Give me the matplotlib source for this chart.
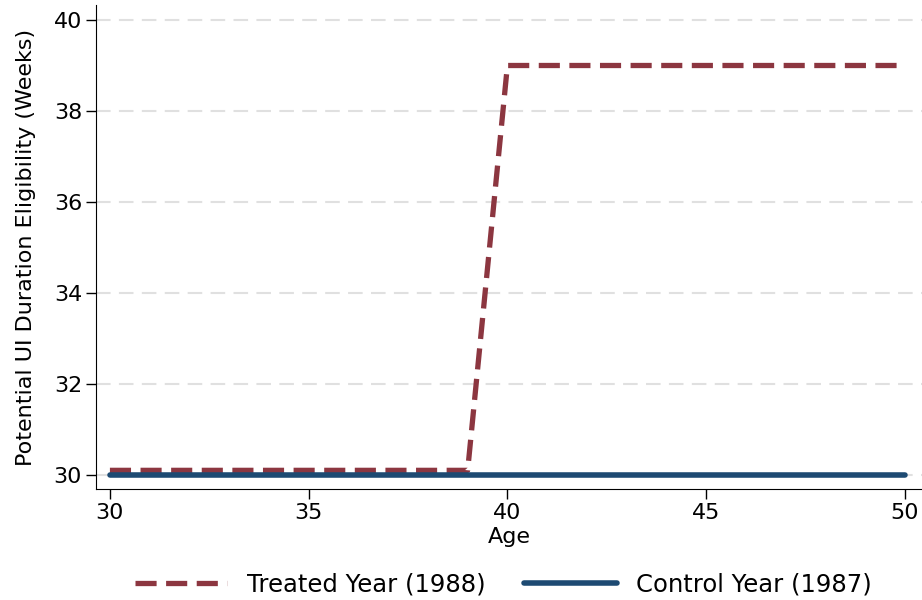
import matplotlib

matplotlib.use("Agg")
import matplotlib.pyplot as plt


AGE = [30, 31, 32, 33, 34, 35, 36, 37, 38, 39, 40, 41, 42, 43, 44, 45, 46, 47, 48, 49, 50]
TREATED_1988 = [30.1] * 10 + [39] * 11
CONTROL_1987 = [30] * 21
Y_TICKS = [30, 32, 34, 36, 38, 40]
X_TICKS = [30, 35, 40, 45, 50]

warna_treated = "#8c3640"
warna_control = "#1d4a72"

fig = plt.figure(figsize=(9.22, 6), dpi=100)
ax = fig.add_axes([96 / 922, 111 / 600, 826 / 922, 484 / 600])

ax.plot(
    AGE,
    TREATED_1988,
    color=warna_treated,
    linewidth=3.8,
    linestyle=(0, (4, 1.8)),
    label="Treated Year (1988)",
    zorder=3,
)
ax.plot(
    AGE,
    CONTROL_1987,
    color=warna_control,
    linewidth=4,
    solid_capstyle="round",
    label="Control Year (1987)",
    zorder=4,
)

ax.set_xlim(29.65, 50.43)
ax.set_ylim(29.69, 40.33)
ax.set_xticks(X_TICKS)
ax.set_yticks(Y_TICKS)
ax.tick_params(labelsize=16, length=7, width=1, direction="out", pad=3)
ax.set_xlabel("Age", fontsize=16, labelpad=3)
ax.set_ylabel("Potential UI Duration Eligibility (Weeks)", fontsize=16, labelpad=13)
ax.grid(axis="y", color="#e0e0e0", linestyle=(0, (7, 4)), linewidth=1.5)
ax.set_axisbelow(True)
for side in ["top", "right"]:
    ax.spines[side].set_visible(False)

fig.legend(
    loc="lower center",
    bbox_to_anchor=(0.546, -0.03),
    ncol=2,
    frameon=False,
    fontsize=17.5,
    handlelength=3.8,
    handletextpad=0.8,
    columnspacing=1.6,
)

fig.savefig("out.png", dpi=100)
